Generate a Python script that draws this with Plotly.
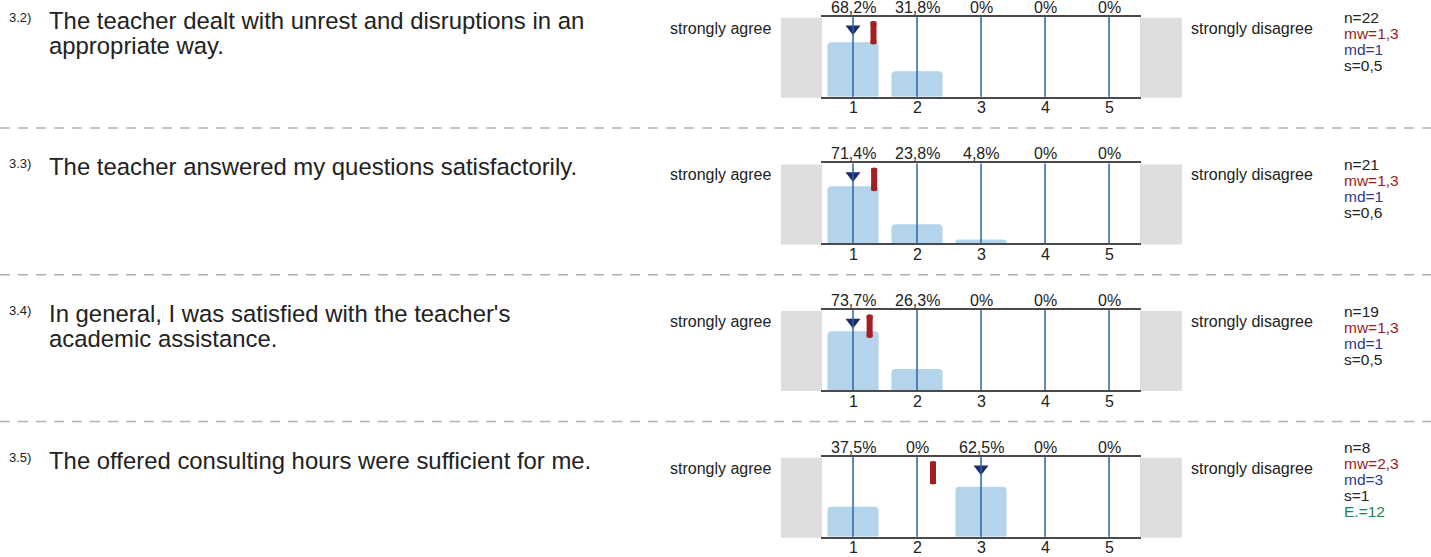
import plotly.graph_objects as go

W, H = 1431, 557

# ---------------- data ----------------
item_ids = ["3.2)", "3.3)", "3.4)", "3.5)"]
item_lines = [
    ["The teacher dealt with unrest and disruptions in an", "appropriate way."],
    ["The teacher answered my questions satisfactorily."],
    ["In general, I was satisfied with the teacher's", "academic assistance."],
    ["The offered consulting hours were sufficient for me."],
]
categories = [1, 2, 3, 4, 5]
pct_3_2 = [68.2, 31.8, 0, 0, 0]
pct_3_3 = [71.4, 23.8, 4.8, 0, 0]
pct_3_4 = [73.7, 26.3, 0, 0, 0]
pct_3_5 = [37.5, 0, 62.5, 0, 0]
percentages = [pct_3_2, pct_3_3, pct_3_4, pct_3_5]
n_values = [22, 21, 19, 8]
mean_values = [1.32, 1.33, 1.26, 2.25]
mean_labels = ["1,3", "1,3", "1,3", "2,3"]
median_values = [1, 1, 1, 3]
sd_labels = ["0,5", "0,6", "0,5", "1"]
abstentions = [None, None, None, 12]
left_pole = "strongly agree"
right_pole = "strongly disagree"

# ---------------- style ----------------
FONT = "Liberation Sans, Arial, sans-serif"
TXT = "#222222"
BAR = "#b3d4ea"
GRID = "#2b64a3"
AXLINE = "#4a4a4a"
GREY = "#dedede"
MEAN_C = "#a41f24"
MED_C = "#1f2a6d"
MW_TXT = "#9b1c20"
MD_TXT = "#2e3a8e"
E_TXT = "#17894b"

ROW_TOP0 = 16.7
ROW_STEP = 146.7
ROW_H = 80
X0, X1 = 821, 1141

def px_x(x):
    return x / W

def px_y(y):
    return 1 - y / H

fig = go.Figure()
annotations = []
shapes = []

def ann(text, x, y, size, color=TXT, xanchor="left", xref="paper"):
    annotations.append(dict(
        text=text, x=x if xref != "paper" else px_x(x), y=px_y(y),
        xref=xref, yref="paper", xanchor=xanchor, yanchor="middle",
        showarrow=False, font=dict(family=FONT, size=size, color=color),
    ))

layout_axes = {}
for i in range(4):
    k = i + 1
    xa = "x" if k == 1 else f"x{k}"
    ya = "y" if k == 1 else f"y{k}"
    top = ROW_TOP0 + ROW_STEP * i
    bot = top + ROW_H

    layout_axes["xaxis" if k == 1 else f"xaxis{k}"] = dict(
        domain=[px_x(X0), px_x(X1)], anchor=ya, range=[0.5, 5.5],
        showgrid=False, zeroline=False, showticklabels=False, ticks="",
        showline=True, mirror=True, linecolor=AXLINE, linewidth=2,
        fixedrange=True,
    )
    layout_axes["yaxis" if k == 1 else f"yaxis{k}"] = dict(
        domain=[px_y(bot), px_y(top)], anchor=xa, range=[0, 100],
        showgrid=False, zeroline=False, showticklabels=False, ticks="",
        showline=False, fixedrange=True,
    )

    # grey end boxes
    for gx0, gx1 in [(781, 822), (1140, 1182)]:
        shapes.append(dict(type="rect", xref="paper", yref="paper",
                           x0=px_x(gx0), x1=px_x(gx1), y0=px_y(bot + 1), y1=px_y(top + 1),
                           fillcolor=GREY, line=dict(width=0), layer="below"))

    # bars
    fig.add_trace(go.Bar(
        x=categories, y=percentages[i], width=0.8, xaxis=xa, yaxis=ya,
        marker=dict(color=BAR, line=dict(width=0), cornerradius=4),
        showlegend=False, hoverinfo="skip",
    ))

    # vertical category lines
    for c in categories:
        shapes.append(dict(type="line", xref=xa, yref=f"{ya} domain",
                           x0=c, x1=c, y0=0, y1=1,
                           line=dict(color=GRID, width=1.5), layer="above"))

    # mean marker (rounded red bar)
    fig.add_trace(go.Scatter(
        x=[mean_values[i]], y=[80], mode="markers", xaxis=xa, yaxis=ya,
        marker=dict(symbol="line-ns", size=16, line=dict(color=MEAN_C, width=6)),
        showlegend=False, hoverinfo="skip", cliponaxis=False,
    ))
    fig.add_trace(go.Scatter(
        x=[mean_values[i], mean_values[i]], y=[91, 69], mode="markers",
        xaxis=xa, yaxis=ya,
        marker=dict(symbol="circle", size=6, color=MEAN_C, line=dict(width=0)),
        showlegend=False, hoverinfo="skip", cliponaxis=False,
    ))
    # median marker
    fig.add_trace(go.Scatter(
        x=[median_values[i]], y=[85], mode="markers", xaxis=xa, yaxis=ya,
        marker=dict(symbol="triangle-down", size=13, color=MED_C, line=dict(width=0)),
        showlegend=False, hoverinfo="skip", cliponaxis=False,
    ))

    # percent labels and tick labels
    for c, v in zip(categories, percentages[i]):
        lab = (f"{v:.1f}".replace(".", ",") + "%") if v else "0%"
        ann(lab, c, top - 9.5, 16, xanchor="center", xref=xa)
        ann(str(c), c, bot + 11, 16, xanchor="center", xref=xa)

    # poles
    ann(left_pole, 773, top + 11.5, 16, xanchor="right")
    ann(right_pole, 1189, top + 11.5, 16, xanchor="left")

    # question text
    ann(item_ids[i], 7, top + 0.5, 13, xanchor="left")
    for j, line in enumerate(item_lines[i]):
        ann(line, 47, top + 3.5 + 25 * j, 23.9, xanchor="left")

    # stats
    stats = [(f"n={n_values[i]}", TXT), (f"mw={mean_labels[i]}", MW_TXT),
             (f"md={median_values[i]}", MD_TXT), (f"s={sd_labels[i]}", TXT)]
    if abstentions[i] is not None:
        stats.append((f"E.={abstentions[i]}", E_TXT))
    start = top + 1 - (len(stats) - 4) * 10
    for j, (t, col) in enumerate(stats):
        ann(t, 1342, start + 16 * j, 15.5, color=col, xanchor="left")

    # dashed separator
    if i < 3:
        sy = 128 + 146.7 * i
        shapes.append(dict(type="line", xref="paper", yref="paper",
                           x0=0, x1=1, y0=px_y(sy), y1=px_y(sy),
                           line=dict(color="#b0b0b0", width=1.5, dash="10px,8px")))

fig.update_layout(
    width=W, height=H, margin=dict(l=0, r=0, t=0, b=0),
    paper_bgcolor="white", plot_bgcolor="white",
    showlegend=False, barmode="overlay",
    annotations=annotations, shapes=shapes,
    **layout_axes,
)

fig.write_html(
    "out.html",
    config={"displayModeBar": False},
    post_script="document.body.style.margin='0';document.body.style.overflow='hidden';",
)
